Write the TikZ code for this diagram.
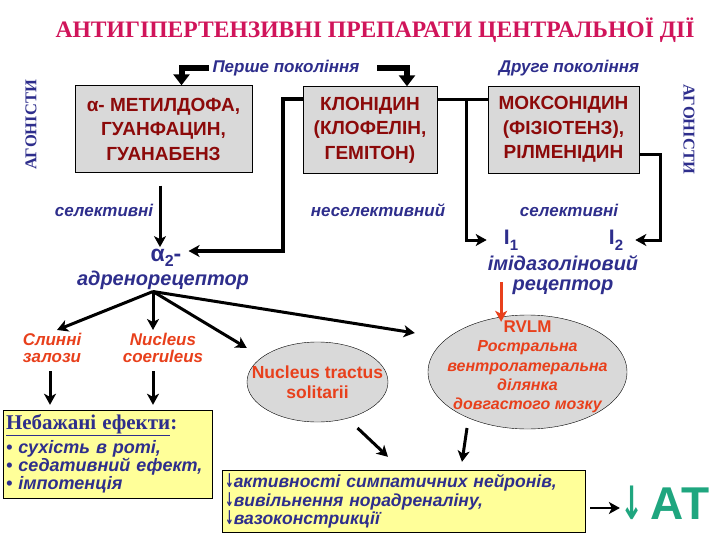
\documentclass[tikz,border=0pt]{standalone}
\usepackage{fontspec}
\setmainfont{Liberation Sans}
\newfontfamily\timesfont{Liberation Serif}
\newfontfamily\arrowfont{DejaVu Sans}
\usepackage{graphicx}
\usepackage{xcolor}
\usetikzlibrary{shapes.geometric, arrows.meta, positioning}
\definecolor{titlered}{HTML}{D0145A}
\definecolor{drugred}{HTML}{8C0A0A}
\definecolor{navyblue}{HTML}{2E2E8C}
\definecolor{nucred}{HTML}{E8401C}
\definecolor{boxgray}{HTML}{D9D9D9}
\definecolor{noteyel}{HTML}{FFFF99}
\definecolor{atgreen}{HTML}{1FA67F}
\newcommand{\dn}{{\arrowfont\bfseries\fontsize{19}{15}\selectfont\scalebox{0.55}[1]{↓}}}
\tikzset{
  drugbox/.style={
    rectangle, draw=black, fill=boxgray,
    minimum height=87pt, inner sep=0pt, align=center,
    font=\fontsize{19}{24.5}\selectfont\bfseries, text=drugred,
  },
  lbl/.style={font=\fontsize{17}{20}\selectfont\bfseries\itshape, text=navyblue, align=center},
  rec/.style={font=\fontsize{20}{20}\selectfont\bfseries, text=navyblue, align=center, inner sep=2pt},
  nuc/.style={font=\fontsize{17}{16.5}\selectfont\bfseries\itshape, text=nucred, align=center},
  oval/.style={ellipse, draw=black, fill=boxgray, inner sep=0pt},
  note/.style={rectangle, draw=black, fill=noteyel, align=left, inner sep=3pt},
  conn/.style={-{Stealth[length=11pt,width=12pt,inset=3pt]}, line width=3pt},
  bar/.style={-{Triangle[length=11pt,width=16pt]}, line width=6pt},
  link/.style={line width=3pt},
}

\begin{document}
\begin{tikzpicture}[x=1pt, y=-1pt,
  ag/.style={font=\fontsize{16.5}{17}\selectfont\timesfont\bfseries, text=navyblue},
  redconn/.style={-{Stealth[length=11pt,width=12pt,inset=3pt]}, line width=3pt, draw=nucred},
]
  \useasboundingbox (0,0) rectangle (720,540);

  % Title
  \node[font=\fontsize{23.6}{26}\selectfont\timesfont\bfseries, text=titlered] (title) at (375,30)
    {АНТИГІПЕРТЕНЗИВНІ ПРЕПАРАТИ ЦЕНТРАЛЬНОЇ ДІЇ};

  % Generations
  \node[lbl] (gen1) at (286,68) {Перше покоління};
  \node[lbl] (gen2) at (569,68) {Друге покоління};
  \node[ag, rotate=90]  (agl) at (31,125) {АГОНІСТИ};
  \node[ag, rotate=-90] (agr) at (689,129) {АГОНІСТИ};

  % Drugs
  \node[drugbox, minimum width=177pt] (drug1) at (163.5,129) {α- МЕТИЛДОФА,\\ГУАНФАЦИН,\\ГУАНАБЕНЗ};
  \node[drugbox, minimum width=134pt] (drug2) at (370,130) {КЛОНІДИН\\(КЛОФЕЛІН,\\ГЕМІТОН)};
  \node[drugbox, minimum width=151pt] (drug3) at (563.5,129.5) {МОКСОНІДИН\\(ФІЗІОТЕНЗ),\\РІЛМЕНІДИН};

  \node[lbl] (sel1)   at (104,210) {селективні};
  \node[lbl] (nonsel) at (378,210) {неселективний};
  \node[lbl] (sel2)   at (569,210) {селективні};

  % Receptors
  \node[rec, font=\fontsize{23}{23}\selectfont\bfseries] (alpha) at (166,258)
    {α\raisebox{-5pt}{\fontsize{16}{16}\selectfont 2}-};
  \node[rec, font=\fontsize{20}{20}\selectfont\bfseries\itshape] (adr) at (163,280) {адренорецептор};
  \node[rec, font=\fontsize{21}{21}\selectfont\bfseries] (i1) at (511,240)
    {I\raisebox{-6pt}{\fontsize{15}{15}\selectfont 1}};
  \node[rec, font=\fontsize{21}{21}\selectfont\bfseries] (i2) at (616,240)
    {I\raisebox{-6pt}{\fontsize{15}{15}\selectfont 2}};
  \node[rec, font=\fontsize{20}{20}\selectfont\bfseries\itshape] (imid) at (563,275) {імідазоліновий\\рецептор};
  \coordinate[left=15pt of i1] (i1in);
  \coordinate[right=10pt of i2] (i2in);
  \coordinate (hub) at ([xshift=-10pt]adr.south);

  % Targets
  \node[nuc] (saliv) at (52,348) {Слинні\\залози};
  \node[nuc] (coer)  at (163,348) {Nucleus\\coeruleus};
  \node[oval, minimum width=141pt, minimum height=80pt] (nts) at (317.5,382) {};
  \node[font=\fontsize{17.5}{20}\selectfont\bfseries, text=nucred, align=center] (ntstxt) at (nts.center)
    {Nucleus tractus\\solitarii};
  \node[oval, minimum width=199pt, minimum height=114pt] (rvlm) at (527.5,372) {};
  \node[nuc, font=\fontsize{16}{19.2}\selectfont\bfseries\itshape] (rvlmtxt) at ([yshift=5pt]rvlm.center)
    {{\upshape\fontsize{17}{19.2}\selectfont RVLM}\\Ростральна\\вентролатеральна\\ділянка\\довгастого мозку};
  \coordinate (ntsin) at ([yshift=34pt]nts.west);
  \coordinate (rvlmin) at ([shift={(-13pt,39pt)}]rvlm.west);

  % Notes
  \node[note, minimum width=209pt, minimum height=88pt, text width=203pt,
        font=\fontsize{18}{18}\selectfont\bfseries\itshape, text=navyblue] (side) at (107.5,454)
    {{\timesfont\upshape\fontsize{21}{18}\selectfont\underline{Небажані ефекти}:}\\[4pt]
     • сухість в роті,\\• седативний ефект,\\• імпотенція};
  \node[note, minimum width=363pt, minimum height=62pt, text width=357pt,
        font=\fontsize{17.5}{17}\selectfont\bfseries\itshape, text=navyblue] (effects) at (403.5,501)
    {\dn активності симпатичних нейронів,\\\dn вивільнення норадреналіну,\\\dn вазоконстрикції};
  \node[font=\fontsize{46}{46}\selectfont\bfseries, text=atgreen, inner sep=0pt] (bp) at (665,503)
    {{\arrowfont\bfseries\scalebox{0.6}[1]{↓}}\,АТ};

  % Arrows
  \draw[bar] (gen1.west) -| ([xshift=18pt]drug1.north);
  \draw[bar] ([xshift=14pt]gen1.east) -| ([xshift=37pt]drug2.north);
  \draw[conn, shorten <=13pt] ([xshift=-3.5pt]drug1.south) -- ([xshift=-3.5pt]drug1.south |- alpha.north);
  \draw[conn, line width=4pt] ([yshift=-13pt]drug2.north west) -- ++(-20,0) |- ([shift={(5pt,7pt)}]alpha.east);
  \draw[link] ([yshift=-13pt]drug2.north east) -- ([yshift=-13pt]drug2.north east -| drug3.west);
  \draw[conn] ([yshift=-13pt]drug2.north east) ++(29,0) |- (i1in);
  \draw[conn] ([yshift=-25.5pt]drug3.east) -- ++(21,0) |- (i2in);
  \draw[redconn] ([shift={(15.5pt,-7pt)}]imid.west) -- ([shift={(15.5pt,-7pt)}]imid.west |- rvlm.north);

  \draw[conn] (hub) -- ([xshift=5pt]saliv.north);
  \draw[conn] (hub) -- (hub |- coer.north);
  \draw[conn] (hub) -- (ntsin);
  \draw[conn] (hub) -- (rvlmin);
  \draw[conn, shorten <=5pt, shorten >=5pt] ([xshift=-2pt]saliv.south) -- ([xshift=-2pt]saliv.south |- side.north);
  \draw[conn, shorten <=5pt, shorten >=5pt] (hub |- coer.south) -- (hub |- side.north);
  \draw[conn] ([shift={(40pt,-46pt)}]nts.center) -- ([shift={(-15.5pt,13pt)}]effects.north);
  \draw[conn] ([shift={(-60.5pt,-56pt)}]rvlm.center) -- ([shift={(58.5pt,8pt)}]effects.north);
  \draw[conn, line width=2.5pt, shorten <=5pt] ([yshift=-7pt]effects.east) -- ([yshift=-7pt]effects.east -| bp.west);

\end{tikzpicture}
\end{document}
